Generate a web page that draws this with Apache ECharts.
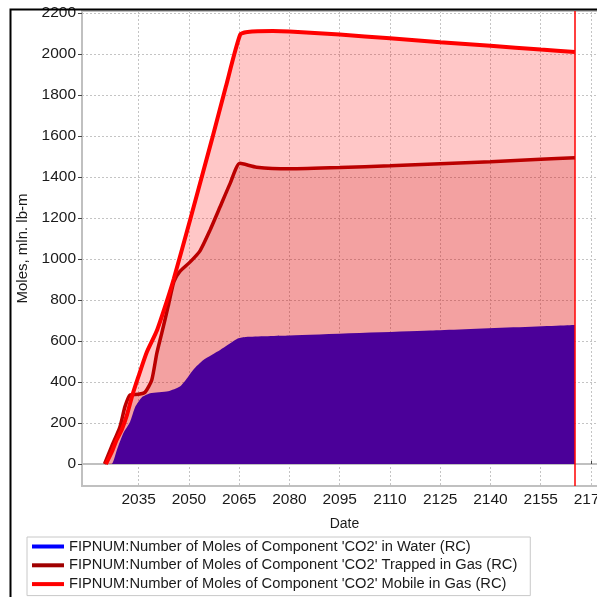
<!DOCTYPE html>
<html>
<head>
<meta charset="utf-8">
<script src="https://cdn.jsdelivr.net/npm/echarts@6/dist/echarts.min.js"></script>
<style>
  html, body { margin: 0; padding: 0; background: #ffffff; }
  #chart { width: 597px; height: 597px; }
</style>
</head>
<body>
<div id="chart"></div>
<script>
// CO2 inventory by phase (FIPNUM region), mln. lb-m of moles
const waterName = "FIPNUM:Number of Moles of Component 'CO2' in Water (RC)";
const trappedName = "FIPNUM:Number of Moles of Component 'CO2' Trapped in Gas (RC)";
const mobileName = "FIPNUM:Number of Moles of Component 'CO2' Mobile in Gas (RC)";

const waterYears  = [2025, 2026.9, 2028.5, 2030.4, 2032.4, 2034, 2035.9, 2038.4, 2043.8, 2047.3, 2049.5, 2051.3, 2054.3, 2059.3, 2064.7, 2067, 2080, 2122, 2165.2];
const waterValues = [0, 0, 70, 150, 205, 280, 325, 345, 355, 378, 420, 460, 507, 556, 613, 620, 627, 651, 678];

const trappedYears  = [2024.8, 2026.9, 2029.4, 2030.9, 2032.4, 2034.9, 2036.9, 2038.9, 2040.4, 2041.9, 2043.8, 2045.5, 2047.3, 2050.3, 2053.3, 2056.3, 2059.3, 2062.3, 2065.2, 2070.2, 2080, 2095, 2110, 2125, 2140, 2155, 2165.2];
const trappedValues = [0, 85, 182, 280, 337, 340, 350, 410, 540, 640, 770, 890, 940, 985, 1040, 1141, 1255, 1369, 1467, 1448, 1440, 1446, 1455, 1465, 1475, 1487, 1494];

const mobileYears  = [2025.2, 2027, 2028.4, 2030, 2031.5, 2033, 2034.9, 2037.4, 2040.4, 2043.5, 2045.5, 2050.5, 2056.8, 2061, 2065.3, 2067.5, 2075, 2080, 2095, 2110, 2125, 2140, 2155, 2165.2];
const mobileValues = [0, 60, 117, 170, 240, 330, 426, 545, 650, 800, 905, 1200, 1580, 1840, 2095, 2108, 2112, 2110, 2095, 2077, 2058, 2040, 2022, 2010];

const xTickValues = [2035, 2050, 2065, 2080, 2095, 2110, 2125, 2140, 2155, 2170];
const yTickValues = [0, 200, 400, 600, 800, 1000, 1200, 1400, 1600, 1800, 2000, 2200];
const lastReportYear = 2165.2;

function pairs(xs, ys) { return xs.map((x, i) => [x, ys[i]]); }

const font = 'Liberation Sans, Arial, sans-serif';
const textColor = '#1a1a1a';
const gridColor = '#c4c4c4';

const chart = echarts.init(document.getElementById('chart'), null, { renderer: 'canvas' });

const smoothing = { smooth: 0.2, showSymbol: false, symbol: 'none' };

chart.setOption({
  animation: false,
  backgroundColor: '#ffffff',
  textStyle: { fontFamily: font },
  grid: {
    left: 82, top: 11, width: 525, bottom: 111,
    containLabel: false, outerBoundsMode: 'none',
    show: true, borderColor: '#c0c0c0', borderWidth: 2, backgroundColor: 'transparent'
  },
  xAxis: {
    type: 'value',
    min: 2018.07, max: 2174.8,
    name: 'Date', nameLocation: 'middle', nameGap: 31,
    nameTextStyle: { fontSize: 14, color: textColor, fontFamily: font },
    axisLine: { show: true, lineStyle: { color: '#c0c0c0', width: 2 } },
    axisTick: { show: true, inside: true, length: 3, customValues: xTickValues, lineStyle: { color: '#444' } },
    axisLabel: { customValues: xTickValues, fontSize: 15.5, color: textColor, margin: 6, formatter: v => String(v) },
    splitLine: { show: true, lineStyle: { color: gridColor, type: [2, 2], width: 1 } }
  },
  yAxis: {
    type: 'value',
    min: -107.3, max: 2210,
    name: 'Moles, mln. lb-m', nameLocation: 'middle', nameGap: 50,
    nameTextStyle: { fontSize: 15, color: textColor, fontFamily: font },
    axisLine: { show: true, lineStyle: { color: '#c0c0c0', width: 2 } },
    axisTick: { show: true, inside: false, length: 4, customValues: yTickValues, lineStyle: { color: '#444' } },
    axisLabel: { customValues: yTickValues, fontSize: 15.5, color: textColor, margin: 6, formatter: v => String(v) },
    splitLine: { show: true, lineStyle: { color: gridColor, type: [2, 2], width: 1 } }
  },
  legend: {
    orient: 'vertical',
    left: 27, top: 537,
    padding: [2, 13, 4, 5],
    itemWidth: 32, itemHeight: 4, itemGap: 3.8,
    icon: 'rect',
    borderColor: '#c8c8c8', borderWidth: 1,
    backgroundColor: '#ffffff',
    textStyle: { fontSize: 14.7, color: textColor, fontFamily: font },
    data: [
      { name: waterName, itemStyle: { color: '#0000ff' } },
      { name: trappedName, itemStyle: { color: '#a00000' } },
      { name: mobileName, itemStyle: { color: '#ff0000' } }
    ]
  },
  graphic: [{
    type: 'rect', left: 8, top: 7, z: 100, silent: true,
    shape: { width: 700, height: 700 },
    style: { fill: 'none', stroke: '#000000', lineWidth: 2 }
  }],
  series: [
    {
      name: 'mobileFill', type: 'line', ...smoothing,
      data: pairs(mobileYears, mobileValues),
      lineStyle: { width: 0 },
      areaStyle: { color: 'rgba(255,0,0,0.22)', opacity: 1, origin: 0 },
      z: 2
    },
    {
      name: 'trappedFill', type: 'line', ...smoothing,
      data: pairs(trappedYears, trappedValues),
      lineStyle: { width: 0 },
      areaStyle: { color: 'rgba(190,0,0,0.19)', opacity: 1, origin: 0 },
      z: 3
    },
    {
      name: waterName, type: 'line', ...smoothing,
      data: pairs(waterYears, waterValues),
      itemStyle: { color: '#0000ff' },
      lineStyle: { width: 0 },
      areaStyle: { color: '#4b0099', opacity: 1, origin: 0 },
      z: 4
    },
    {
      name: trappedName, type: 'line', ...smoothing,
      data: pairs(trappedYears, trappedValues),
      itemStyle: { color: '#a00000' },
      lineStyle: { color: '#bb0000', width: 3.5 },
      z: 5
    },
    {
      name: mobileName, type: 'line', ...smoothing,
      data: pairs(mobileYears, mobileValues),
      itemStyle: { color: '#ff0000' },
      lineStyle: { color: '#ff0000', width: 4 },
      z: 6,
      markLine: {
        silent: true, symbol: 'none',
        label: { show: false },
        lineStyle: { color: '#ff0000', width: 1.5, type: 'solid', opacity: 1 },
        data: [{ xAxis: lastReportYear }]
      }
    }
  ]
});
</script>
</body>
</html>
